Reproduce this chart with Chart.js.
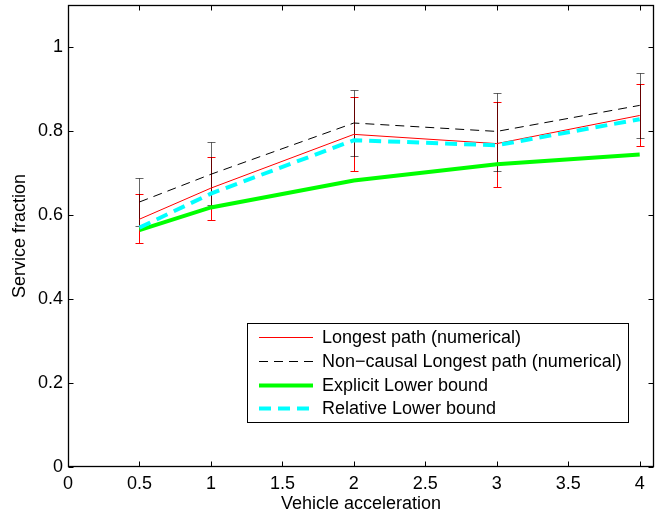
<!DOCTYPE html>
<html>
<head>
<meta charset="utf-8">
<script src="https://cdn.jsdelivr.net/npm/chart.js@4.4.0/dist/chart.umd.min.js"></script>
<style>
  html, body { margin: 0; padding: 0; background: #fff; }
  canvas { display: block; }
</style>
</head>
<body>
<canvas id="chart" width="668" height="512"></canvas>
<script>
const xValues = [0.5, 1, 2, 3, 4];

const longestPath = [0.590, 0.664, 0.792, 0.770, 0.837];
const longestLow = [0.533, 0.589, 0.705, 0.667, 0.764];
const longestHigh = [0.649, 0.737, 0.881, 0.870, 0.913];

const nonCausal = [0.631, 0.697, 0.819, 0.799, 0.861];
const nonCausalLow = [0.573, 0.625, 0.741, 0.704, 0.784];
const nonCausalHigh = [0.688, 0.775, 0.897, 0.891, 0.937];

const explicitBound = [0.564, 0.618, 0.682, 0.721, 0.744];
const relativeBound = [0.570, 0.651, 0.778, 0.766, 0.828];

const seriesLabels = [
    'Longest path (numerical)',
    'Non\u2212causal Longest path (numerical)',
    'Explicit Lower bound',
    'Relative Lower bound'
];

const xTickValues = [0, 0.5, 1, 1.5, 2, 2.5, 3, 3.5, 4];
const yTickValues = [0, 0.2, 0.4, 0.6, 0.8, 1];

const FONT = "'Liberation Sans', Arial, Helvetica, sans-serif";
Chart.defaults.font.family = FONT;
Chart.defaults.font.size = 18;
Chart.defaults.color = '#000';

const toPoints = (values) => values.map((v, i) => ({ x: xValues[i], y: v }));

const lineStyle = (label, values, color, width, dash, order) => ({
    label: label,
    data: toPoints(values),
    borderColor: color,
    backgroundColor: color,
    borderWidth: width,
    borderDash: dash,
    pointRadius: 0,
    tension: 0,
    fill: false,
    order: order
});

const datasets = [
    lineStyle(seriesLabels[0], longestPath, '#ff0000', 1, [], 4),
    lineStyle(seriesLabels[1], nonCausal, '#000000', 1, [9, 6], 3),
    lineStyle(seriesLabels[2], explicitBound, '#00ff00', 4, [], 2),
    lineStyle(seriesLabels[3], relativeBound, '#00ffff', 4, [12, 7], 1)
];

const drawBars = (ctx, x, y, low, high, color, alpha) => {
    ctx.save();
    ctx.strokeStyle = color;
    ctx.globalAlpha = alpha;
    ctx.lineWidth = 1;
    xValues.forEach((xv, i) => {
        const px = Math.round(x.getPixelForValue(xv)) + 0.5;
        const top = Math.round(y.getPixelForValue(high[i])) + 0.5;
        const bottom = Math.round(y.getPixelForValue(low[i])) + 0.5;
        ctx.beginPath();
        ctx.moveTo(px, top);
        ctx.lineTo(px, bottom);
        ctx.moveTo(px - 4, top);
        ctx.lineTo(px + 4, top);
        ctx.moveTo(px - 4, bottom);
        ctx.lineTo(px + 4, bottom);
        ctx.stroke();
    });
    ctx.restore();
};

const errorBars = {
    id: 'errorBars',
    beforeDatasetsDraw(chart) {
        const { ctx, scales: { x, y } } = chart;
        drawBars(ctx, x, y, longestLow, longestHigh, '#ff0000', 1);
        drawBars(ctx, x, y, nonCausalLow, nonCausalHigh, '#000000', 0.6);
    }
};

// matlab style box, inner ticks and the legend inside the axes
const axesBox = {
    id: 'axesBox',
    afterDraw(chart) {
        const { ctx, chartArea: a, scales: { x, y } } = chart;
        const l = a.left + 0.5, r = a.right - 0.5, t = a.top + 0.5, b = a.bottom - 0.5;
        ctx.save();
        ctx.strokeStyle = '#000';
        ctx.lineWidth = 1;
        ctx.beginPath();
        xTickValues.forEach((v) => {
            const px = Math.round(x.getPixelForValue(v)) + 0.5;
            ctx.moveTo(px, b); ctx.lineTo(px, b - 5);
            ctx.moveTo(px, t); ctx.lineTo(px, t + 5);
        });
        yTickValues.forEach((v) => {
            const py = Math.round(y.getPixelForValue(v)) + 0.5;
            ctx.moveTo(l, py); ctx.lineTo(l + 5, py);
            ctx.moveTo(r, py); ctx.lineTo(r - 5, py);
        });
        ctx.stroke();
        ctx.lineWidth = 1.3;
        ctx.strokeRect(l, t, r - l, b - t);

        // legend
        const box = { left: 247.5, top: 323.5, width: 381, height: 99 };
        ctx.fillStyle = '#fff';
        ctx.fillRect(box.left, box.top, box.width, box.height);
        ctx.lineWidth = 1;
        ctx.strokeRect(box.left, box.top, box.width, box.height);
        const rows = [337, 361, 385, 408];
        ctx.font = `18px ${FONT}`;
        ctx.textBaseline = 'middle';
        ctx.textAlign = 'left';
        datasets.forEach((ds, i) => {
            ctx.beginPath();
            ctx.strokeStyle = ds.borderColor;
            ctx.lineWidth = ds.borderWidth;
            ctx.setLineDash(ds.borderDash);
            ctx.moveTo(259, rows[i] + 0.5);
            ctx.lineTo(313, rows[i] + 0.5);
            ctx.stroke();
            ctx.setLineDash([]);
            ctx.fillStyle = '#000';
            ctx.fillText(ds.label, 322, rows[i] + 1);
        });
        ctx.restore();
    }
};

new Chart(document.getElementById('chart'), {
    type: 'line',
    data: { datasets: datasets },
    options: {
        responsive: false,
        animation: false,
        layout: { padding: { left: 0, right: 14, top: 5, bottom: 0 } },
        plugins: { legend: { display: false }, tooltip: { enabled: false } },
        scales: {
            x: {
                type: 'linear',
                min: 0,
                max: 4.1,
                grid: { display: false, drawTicks: false },
                border: { display: false },
                afterBuildTicks: (scale) => { scale.ticks = xTickValues.map((v) => ({ value: v })); },
                afterFit: (scale) => {
                    scale.height = 45;
                    scale.paddingLeft = 0;
                    scale.paddingRight = 0;
                },
                ticks: { padding: 6, maxRotation: 0, autoSkip: false, callback: (v) => String(v) },
                title: {
                    display: true,
                    text: 'Vehicle acceleration',
                    font: { size: 18, lineHeight: 1 },
                    padding: { top: 0, bottom: -1 }
                }
            },
            y: {
                min: 0,
                max: 1.1,
                grid: { display: false, drawTicks: false },
                border: { display: false },
                afterBuildTicks: (scale) => { scale.ticks = yTickValues.map((v) => ({ value: v })); },
                afterFit: (scale) => {
                    scale.width = 68;
                    scale.paddingTop = 0;
                    scale.paddingBottom = 0;
                },
                ticks: { padding: 5, autoSkip: false, callback: (v) => String(v) },
                title: {
                    display: true,
                    text: 'Service fraction',
                    font: { size: 18, lineHeight: 1 },
                    padding: { top: 11, bottom: 0 }
                }
            }
        }
    },
    plugins: [errorBars, axesBox]
});
</script>
</body>
</html>
